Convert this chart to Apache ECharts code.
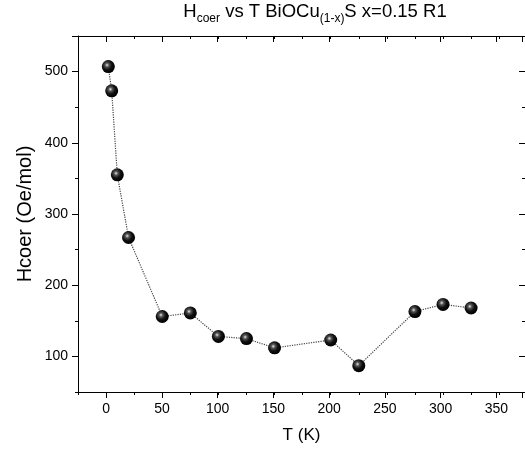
<!DOCTYPE html>
<html>
<head>
<meta charset="utf-8">
<script src="https://cdn.jsdelivr.net/npm/echarts@6/dist/echarts.min.js"></script>
<style>
html,body{margin:0;padding:0;background:#fff;}
#c{width:525px;height:458px;}
</style>
</head>
<body>
<div id="c"></div>
<script>
var temperatures = [2, 5, 10, 20, 50, 75, 100, 125, 150, 200, 225, 275, 300, 325];
var hcoer = [507, 473, 355, 267, 156, 161, 128, 125, 112, 123, 87, 163, 173, 168];
var xTickLabels = ['0', '50', '100', '150', '200', '250', '300', '350'];
var yTickLabels = ['100', '200', '300', '400', '500'];

var XMIN = -25, XMAX = 373, YMIN = 50, YMAX = 550;
var FONT = '"Liberation Sans", Arial, sans-serif';

// pixel layout of the plot frame
var L = 78, T = 36, R = -3, B = 66, W = 525, H = 458;
var pxPerX = (W - L - R) / (XMAX - XMIN);
var pxPerY = (H - T - B) / (YMAX - YMIN);
var L2 = L + (0 - XMIN) * pxPerX;      // grid whose x starts at 0
var B3 = B + (100 - YMIN) * pxPerY;    // grid whose y starts at 100

var black = {color: '#000', width: 1};
function xAx(grid, pos, min, interval, len, inside, line, label) {
  return {
    type: 'value', gridIndex: grid, position: pos, min: min, max: XMAX, interval: interval,
    splitLine: {show: false},
    axisLine: {show: line, onZero: false, lineStyle: black},
    axisTick: {show: true, inside: inside, length: len, lineStyle: black},
    axisLabel: {
      show: label, margin: 10, color: '#000', fontSize: 14, fontFamily: FONT,
      formatter: function (v) { var s = String(Math.round(v)); return xTickLabels.indexOf(s) >= 0 ? s : ''; }
    }
  };
}
function yAx(grid, pos, min, interval, len, inside, line, label) {
  return {
    type: 'value', gridIndex: grid, position: pos, min: min, max: YMAX, interval: interval,
    splitLine: {show: false},
    axisLine: {show: line, onZero: false, lineStyle: black},
    axisTick: {show: true, inside: inside, length: len, lineStyle: black},
    axisLabel: {
      show: label, margin: 10, color: '#000', fontSize: 14, fontFamily: FONT,
      formatter: function (v) { var s = String(Math.round(v)); return yTickLabels.indexOf(s) >= 0 ? s : ''; }
    }
  };
}
function hidden(grid, kind) {
  return {type: 'value', gridIndex: grid, show: false, min: kind === 'x' ? 0 : 100, max: kind === 'x' ? XMAX : YMAX};
}

var xAxes = [
  xAx(0, 'bottom', XMIN, 25, 3, false, true, false),   // 0 minor bottom + frame
  xAx(0, 'top', XMIN, 25, 3, true, true, false),       // 1 minor top + frame
  xAx(1, 'bottom', 0, 50, 6, false, false, true),      // 2 major bottom + labels
  xAx(1, 'top', 0, 50, 6, true, false, false),         // 3 major top
  hidden(2, 'x')                                       // 4
];
xAxes[0].name = 'T (K)';
xAxes[0].nameLocation = 'middle';
xAxes[0].nameGap = 35;
xAxes[0].nameTextStyle = {color: '#000', fontSize: 17, fontFamily: FONT};

var yAxes = [
  yAx(0, 'left', YMIN, 50, 3, false, true, false),     // 0 minor left + frame
  yAx(0, 'right', YMIN, 50, 3, true, true, false),     // 1 minor right + frame
  hidden(1, 'y'),                                      // 2
  yAx(2, 'left', 100, 100, 6, false, false, true),     // 3 major left + labels
  yAx(2, 'right', 100, 100, 6, true, false, false)     // 4 major right
];
yAxes[0].name = 'Hcoer (Oe/mol)';
yAxes[0].nameLocation = 'middle';
yAxes[0].nameGap = 43;
yAxes[0].nameTextStyle = {color: '#000', fontSize: 20, fontFamily: FONT};

var data = temperatures.map(function (t, i) { return [t, hcoer[i]]; });

var chart = echarts.init(document.getElementById('c'), null, {renderer: 'canvas'});
chart.setOption({
  animation: false,
  backgroundColor: '#fff',
  title: {
    text: '{n|H}{s|coer}{n| vs T BiOCu}{s|(1-x)}{n|S x=0.15 R1}',
    left: 310, top: -6, textAlign: 'center',
    textStyle: {
      fontWeight: 'normal',
      rich: {
        n: {fontSize: 18.5, fontWeight: 'normal', fontFamily: FONT, color: '#000', lineHeight: 26, verticalAlign: 'middle'},
        s: {fontSize: 12, fontWeight: 'normal', fontFamily: FONT, color: '#000', lineHeight: 10, verticalAlign: 'bottom'}
      }
    }
  },
  grid: [
    {left: L, top: T, right: R, bottom: B},
    {left: L2, top: T, right: R, bottom: B},
    {left: L, top: T, right: R, bottom: B3}
  ],
  xAxis: xAxes,
  yAxis: yAxes,
  series: [{
    type: 'line',
    xAxisIndex: 0, yAxisIndex: 0,
    data: data,
    symbol: 'circle',
    symbolSize: 13,
    z: 5,
    lineStyle: {type: 'dotted', color: '#444', width: 1.2},
    itemStyle: {
      color: {
        type: 'radial', x: 0.4, y: 0.38, r: 0.6,
        colorStops: [
          {offset: 0, color: '#e8e8e8'},
          {offset: 0.25, color: '#555'},
          {offset: 0.6, color: '#111'},
          {offset: 1, color: '#000'}
        ]
      },
      borderWidth: 0
    }
  }]
});
</script>
</body>
</html>
